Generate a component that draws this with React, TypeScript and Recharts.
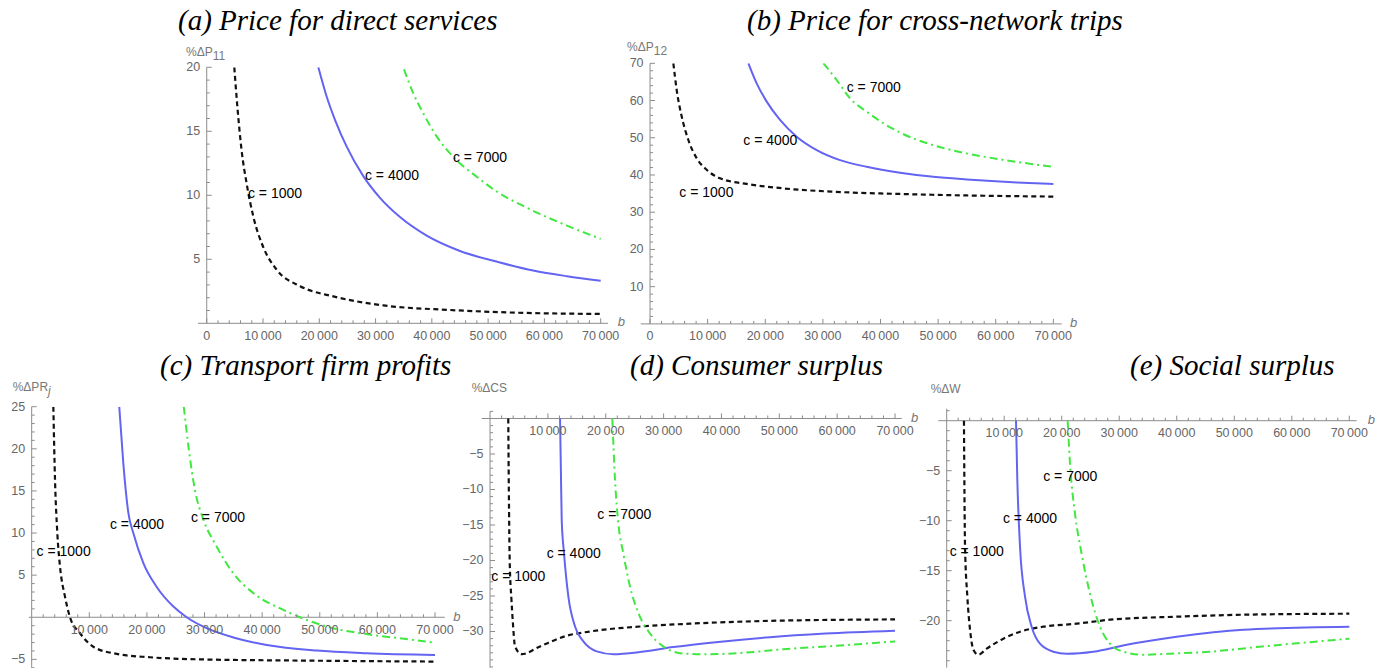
import React from "react";
import { LineChart, Line, XAxis, YAxis, ReferenceLine, ReferenceDot } from "recharts";

type Pt = [number, number];

// each curve is a list of [b, value] pairs
const P11_C1000: Pt[] = [[4900, 20], [5450, 16.9], [6200, 13.5], [7100, 10.9], [8300, 8.3], [10000, 6.0], [12400, 4.2], [16600, 2.9], [22500, 2.1], [31400, 1.4], [43200, 1.04], [55000, 0.83], [70000, 0.73]];
const P11_C4000: Pt[] = [[19830, 20], [21320, 17.7], [22790, 15.9], [24870, 13.8], [27820, 11.5], [30790, 9.8], [34340, 8.3], [39080, 6.85], [45000, 5.65], [52100, 4.75], [58000, 4.12], [64000, 3.68], [70000, 3.33]];
const P11_C7000: Pt[] = [[35050, 19.84], [36700, 17.97], [38480, 16.4], [40860, 14.6], [43810, 13.0], [47970, 11.45], [51520, 10.3], [56800, 9.05], [63900, 7.65], [70000, 6.6]];

const P12_C1000: Pt[] = [[4050, 70], [4630, 62.8], [5500, 55.7], [6650, 49.4], [8100, 44.5], [9830, 41.4], [12150, 39.1], [16770, 37.6], [23130, 36.4], [31800, 35.5], [43380, 34.9], [54950, 34.5], [70000, 34.2]];
const P12_C4000: Pt[] = [[17070, 70], [18510, 64.6], [20250, 59.7], [22560, 54.8], [25450, 50.3], [28930, 46.7], [32980, 44], [37600, 42.2], [43390, 40.6], [49170, 39.5], [54960, 38.8], [63640, 38], [70000, 37.6]];
const P12_C7000: Pt[] = [[30100, 70], [32400, 65.5], [34710, 60.6], [37600, 57], [40500, 53.9], [43390, 51.4], [49170, 48], [54960, 45.8], [60740, 44.2], [70000, 42.2]];

const PR_C1000: Pt[] = [[3760, 25], [4050, 16.3], [4450, 10], [4920, 6], [5780, 2.45], [6650, 0], [8390, -1.9], [10700, -3.5], [14750, -4.35], [20530, -4.75], [29200, -5], [46560, -5.14], [70000, -5.26]];
const PR_C4000: Pt[] = [[15200, 25], [15900, 18.3], [16800, 12.3], [17640, 10], [19400, 6.4], [21700, 3.6], [24600, 1.27], [26900, 0], [30360, -1.3], [35000, -2.4], [40800, -3.3], [49450, -3.96], [58100, -4.27], [70000, -4.47]];
const PR_C7000: Pt[] = [[26400, 25], [27200, 20.3], [28340, 15.1], [29800, 11.6], [32100, 8.4], [35000, 5.2], [38500, 2.85], [43700, 0.87], [46560, 0], [52300, -1.3], [58100, -2], [63900, -2.5], [70000, -3]];

const CS_C1000: Pt[] = [[3150, 0], [3250, -10], [3400, -20], [3700, -25.5], [3920, -28.4], [4320, -32.1], [5470, -33.2], [8640, -32.1], [13250, -30.6], [17280, -30], [25920, -29.3], [34570, -28.9], [48390, -28.5], [70000, -28.3]];
const CS_C4000: Pt[] = [[12100, 0], [12250, -7.5], [12390, -14.3], [12790, -19], [13540, -25.1], [14690, -29.3], [16130, -31.4], [18440, -32.8], [21320, -33.2], [25920, -32.9], [31690, -32.2], [40330, -31.4], [48390, -30.8], [58000, -30.3], [70000, -29.9]];
const CS_C7000: Pt[] = [[21140, 0], [21600, -8.6], [22180, -14.8], [23040, -19], [24200, -23.7], [25640, -27.4], [27650, -30.3], [29950, -32.1], [33410, -33.1], [37450, -33.2], [43780, -33], [50700, -32.5], [60000, -32], [70000, -31.4]];

const W_C1000: Pt[] = [[3000, 0], [3190, -12.6], [3590, -17.6], [4060, -20.9], [4640, -22.9], [5500, -23.4], [6950, -22.8], [9850, -21.8], [12750, -21.1], [16800, -20.6], [22600, -20.3], [28400, -19.9], [39980, -19.6], [51560, -19.4], [70000, -19.3]];
const W_C4000: Pt[] = [[12050, 0], [12280, -5.9], [12750, -12.6], [13620, -17.6], [14770, -20.6], [16220, -22.3], [18540, -23.1], [20860, -23.3], [25490, -23.1], [31290, -22.4], [39980, -21.6], [51560, -20.9], [70000, -20.6]];
const W_C7000: Pt[] = [[21030, 0], [21440, -4.3], [22310, -9.3], [23460, -13.3], [24910, -17.3], [26650, -20.6], [28390, -22.3], [30700, -23.1], [34180, -23.4], [38820, -23.3], [45770, -23.1], [54460, -22.6], [70000, -21.8]];

// where the "c = ..." labels sit, in data units
const P11_LABELS: Pt[] = [[12130, 10.18], [32920, 11.59], [48550, 13.0]];
const P12_LABELS: Pt[] = [[9780, 35.5], [20880, 49.4], [38830, 63.7]];
const PR_LABELS: Pt[] = [[5550, 7.9], [18280, 11.08], [32340, 11.94]];
const CS_LABELS: Pt[] = [[4890, -22.18], [14460, -18.99], [23210, -13.45]];
const W_LABELS: Pt[] = [[5220, -13.0], [14480, -9.76], [21490, -5.5]];

const C_NAMES = ["c = 1000", "c = 4000", "c = 7000"];
const X_MAJOR = [0, 10000, 20000, 30000, 40000, 50000, 60000, 70000];
const Y_MAJOR_P11 = [5, 10, 15, 20];
const Y_MAJOR_P12 = [10, 20, 30, 40, 50, 60, 70];
const Y_MAJOR_PR = [-5, 5, 10, 15, 20, 25];
const Y_MAJOR_CS = [-5, -10, -15, -20, -25, -30];
const Y_MAJOR_W = [-5, -10, -15, -20];

const AXIS = "#8c8c8c";
const TICK_TEXT = "#666";
const SANS = '"Liberation Sans", Arial, sans-serif';
const SERIF = '"Liberation Serif", "Times New Roman", serif';

const LINE_STYLES = [
  { stroke: "#111111", dash: "5 3.5", width: 2.2 },
  { stroke: "#6464f2", dash: undefined, width: 2 },
  { stroke: "#40e840", dash: "8 4 2 4", width: 2 },
];

// the axis boxes are given this much room so recharts draws their ticks,
// the ticks themselves are then moved onto the zero lines
const AX_ROOM = 20;

const range = (from: number, to: number, step: number) => {
  const out: number[] = [];
  for (let v = from; v <= to + 1e-9; v += step) out.push(Math.round(v * 100) / 100);
  return out;
};

const fmtX = (v: number) => (v === 0 ? "0" : `${v / 1000}\u2009000`);
const fmtY = (v: number) => (v < 0 ? `\u2212${-v}` : `${v}`);

function XTick(props: any) {
  const { x, payload, y0, labels } = props;
  const v = payload.value;
  const major = v % 10000 === 0;
  return (
    <g>
      <line x1={x} x2={x} y1={y0} y2={y0 - (major ? 5 : 3)} stroke={AXIS} strokeWidth={1} />
      {labels.includes(v) && (
        <text x={x} y={y0 + 12.5} textAnchor="middle" dominantBaseline="central" fill={TICK_TEXT} fontSize={12.5} fontFamily={SANS}>
          {fmtX(v)}
        </text>
      )}
    </g>
  );
}

function YTick(props: any) {
  const { y, payload, x0, labels } = props;
  const v = payload.value;
  const major = labels.includes(v);
  return (
    <g>
      <line x1={x0} x2={x0 + (major ? 5 : 3)} y1={y} y2={y} stroke={AXIS} strokeWidth={1} />
      {major && (
        <text x={x0 - 6.5} y={y} textAnchor="end" dominantBaseline="central" fill={TICK_TEXT} fontSize={12.5} fontFamily={SANS}>
          {fmtY(v)}
        </text>
      )}
    </g>
  );
}

function Panel(props: any) {
  const { left, top, width, height, margin, xDomain, yDomain, xLabels, yLabels, yMinorStep, curves, notes, yTitle, titlePos, bPos } = props;
  const plotW = width - margin.left - margin.right;
  const plotH = height - margin.top - margin.bottom;
  const x0 = margin.left + ((0 - xDomain[0]) / (xDomain[1] - xDomain[0])) * plotW;
  const y0 = margin.top + ((yDomain[1] - 0) / (yDomain[1] - yDomain[0])) * plotH;
  const xTicks = range(2000, 70000, 2000).concat(xLabels.includes(0) ? [0] : []);
  const yTicks = range(Math.ceil(yDomain[0] / yMinorStep) * yMinorStep, Math.floor(yDomain[1]), yMinorStep).filter((v) => v !== 0);
  const chartMargin = { ...margin, top: margin.top - AX_ROOM, left: margin.left - AX_ROOM };

  return (
    <div style={{ position: "absolute", left, top, width, height }}>
      <LineChart width={width} height={height} margin={chartMargin}>
        <XAxis
          type="number"
          dataKey="b"
          orientation="top"
          domain={xDomain}
          ticks={xTicks}
          interval={0}
          allowDataOverflow
          axisLine={false}
          tickLine={false}
          height={AX_ROOM}
          tick={(p: any) => <XTick {...p} y0={y0} labels={xLabels} />}
        />
        <YAxis
          type="number"
          domain={yDomain}
          ticks={yTicks}
          interval={0}
          allowDataOverflow
          axisLine={false}
          tickLine={false}
          width={AX_ROOM}
          tick={(p: any) => <YTick {...p} x0={x0} labels={yLabels} />}
        />
        <ReferenceLine x={0} stroke={AXIS} strokeWidth={1} />
        <ReferenceLine y={0} stroke={AXIS} strokeWidth={1} />
        {curves.map((pts: Pt[], i: number) => (
          <Line
            key={C_NAMES[i]}
            data={pts.map(([b, v]) => ({ b, v }))}
            dataKey="v"
            type="monotoneX"
            stroke={LINE_STYLES[i].stroke}
            strokeWidth={LINE_STYLES[i].width}
            strokeDasharray={LINE_STYLES[i].dash}
            dot={false}
            activeDot={false}
            isAnimationActive={false}
          />
        ))}
        {notes.map(([b, v]: Pt, i: number) => (
          <ReferenceDot
            key={"n" + i}
            x={b}
            y={v}
            r={0}
            fill="none"
            stroke="none"
            ifOverflow="visible"
            label={{ value: C_NAMES[i], position: "center", fill: "#000", fontSize: 14, fontFamily: SANS }}
          />
        ))}
      </LineChart>
      <div
        style={{
          position: "absolute",
          left: titlePos[0],
          top: titlePos[1] - 8,
          fontFamily: SANS,
          fontSize: 12,
          lineHeight: "16px",
          color: "#777",
          whiteSpace: "nowrap",
        }}
      >
        {yTitle}
      </div>
      <div
        style={{
          position: "absolute",
          left: bPos[0] - 4,
          top: bPos[1] - 8,
          fontFamily: SANS,
          fontStyle: "italic",
          fontSize: 13,
          lineHeight: "16px",
          color: "#777",
        }}
      >
        b
      </div>
    </div>
  );
}

const sub = (s: string, italic = false) => (
  <span style={{ fontSize: 12, position: "relative", top: 4, fontStyle: italic ? "italic" : "normal" }}>{s}</span>
);

function Title({ text, left, cy }: { text: string; left: number; cy: number }) {
  return (
    <div
      style={{
        position: "absolute",
        left,
        top: cy - 17,
        fontFamily: SERIF,
        fontStyle: "italic",
        fontSize: 29,
        lineHeight: "34px",
        color: "#000",
        whiteSpace: "nowrap",
      }}
    >
      {text}
    </div>
  );
}

export default function App() {
  return (
    <div style={{ position: "absolute", left: 0, top: 0, width: 1388, height: 668, background: "#fff", overflow: "hidden" }}>
      <Title text="(a) Price for direct services" left={178} cy={20} />
      <Title text="(b) Price for cross-network trips" left={747} cy={20} />
      <Title text="(c) Transport firm profits" left={160} cy={365} />
      <Title text="(d) Consumer surplus" left={630} cy={365} />
      <Title text="(e) Social surplus" left={1130} cy={365} />

      <Panel
        left={150}
        top={40}
        width={480}
        height={310}
        margin={{ top: 27.3, right: 22, bottom: 26.7, left: 48 }}
        xDomain={[-1550, 71300]}
        yDomain={[0, 20]}
        xLabels={X_MAJOR}
        yLabels={Y_MAJOR_P11}
        yMinorStep={1}
        curves={[P11_C1000, P11_C4000, P11_C7000]}
        notes={P11_LABELS}
        yTitle={<>%ΔP{sub("11")}</>}
        titlePos={[36, 11.7]}
        bPos={[471.7, 281.7]}
      />
      <Panel
        left={600}
        top={38}
        width={500}
        height={312}
        margin={{ top: 25.3, right: 38.3, bottom: 26.1, left: 40.7 }}
        xDomain={[-1620, 71450]}
        yDomain={[0, 70]}
        xLabels={X_MAJOR}
        yLabels={Y_MAJOR_P12}
        yMinorStep={2}
        curves={[P12_C1000, P12_C4000, P12_C7000]}
        notes={P12_LABELS}
        yTitle={<>%ΔP{sub("12")}</>}
        titlePos={[27, 8.7]}
        bPos={[474, 284.7]}
      />
      <Panel
        left={0}
        top={378}
        width={470}
        height={290}
        margin={{ top: 28.7, right: 25.2, bottom: 0.2, left: 28.8 }}
        xDomain={[-500, 71700]}
        yDomain={[-6, 25]}
        xLabels={X_MAJOR.slice(1)}
        yLabels={Y_MAJOR_PR}
        yMinorStep={1}
        curves={[PR_C1000, PR_C4000, PR_C7000]}
        notes={PR_LABELS}
        yTitle={<>%ΔPR{sub("j", true)}</>}
        titlePos={[12.7, 8.7]}
        bPos={[457.3, 238.7]}
      />
      <Panel
        left={450}
        top={378}
        width={470}
        height={290}
        margin={{ top: 33.4, right: 18.3, bottom: 0.3, left: 31.7 }}
        xDomain={[-1440, 71150]}
        yDomain={[-35.1, 1]}
        xLabels={X_MAJOR.slice(1)}
        yLabels={Y_MAJOR_CS}
        yMinorStep={1}
        curves={[CS_C1000, CS_C4000, CS_C7000]}
        notes={CS_LABELS}
        yTitle={<>%ΔCS</>}
        titlePos={[21.7, 10.3]}
        bPos={[465, 40.3]}
      />
      <Panel
        left={910}
        top={378}
        width={478}
        height={290}
        margin={{ top: 30.7, right: 31.4, bottom: 0.3, left: 28.3 }}
        xDomain={[-1460, 71270]}
        yDomain={[-24.7, 1.2]}
        xLabels={X_MAJOR.slice(1)}
        yLabels={Y_MAJOR_W}
        yMinorStep={1}
        curves={[W_C1000, W_C4000, W_C7000]}
        notes={W_LABELS}
        yTitle={<>%ΔW</>}
        titlePos={[20.7, 11.3]}
        bPos={[461.7, 42]}
      />
    </div>
  );
}
